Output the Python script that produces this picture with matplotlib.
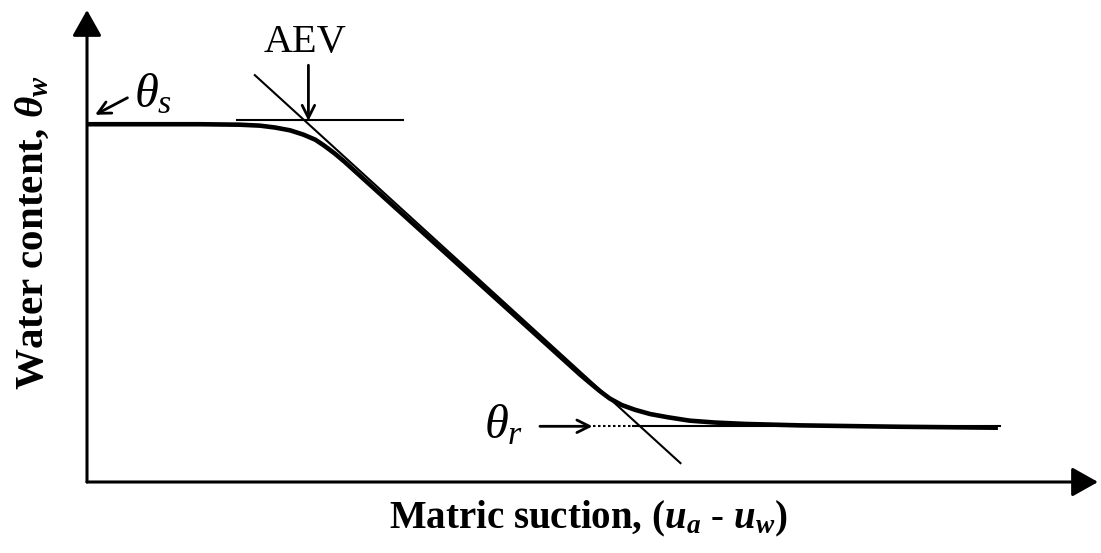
import matplotlib
matplotlib.use("Agg")
import matplotlib.pyplot as plt

plt.rcParams['font.family'] = ['Liberation Serif', 'DejaVu Serif']
plt.rcParams['mathtext.fontset'] = 'custom'
plt.rcParams['mathtext.rm'] = 'Liberation Serif'
plt.rcParams['mathtext.it'] = 'Liberation Serif:italic'
plt.rcParams['mathtext.bf'] = 'Liberation Serif:bold'
plt.rcParams['mathtext.bfit'] = 'Liberation Serif:italic:bold'

# Soil-water characteristic curve (schematic units, 0-100 on both axes)
suction = [0, 11.2, 15.1, 17.1, 18.6, 20.1, 21.4, 22.6, 23.5, 24.5, 25.5,
           48.8, 49.8, 50.7, 51.7, 52.9, 54.2, 55.7, 57.5, 59.6, 62.1,
           65.1, 70.5, 80.4, 90.1]
water = [75.8, 75.8, 75.7, 75.5, 75.1, 74.5, 73.6, 72.5, 71.2, 69.6, 67.8,
         22.7, 20.9, 19.3, 17.7, 16.3, 15.3, 14.4, 13.7, 13.0, 12.6,
         12.3, 12.0, 11.7, 11.5]

# construction lines
theta_s_line_x = [14.8, 31.3]
theta_s_line_y = [76.6, 76.6]
slope_x = [16.6, 58.7]
slope_y = [86.2, 4.0]
theta_r = 11.8
theta_r_dotted_x = [50.0, 54.0]
theta_r_solid_x = [54.0, 90.3]
aev_x = 21.9

fig = plt.figure(figsize=(11.01, 5.53), dpi=100)
ax = fig.add_axes([87/1101, 71/553, 1011/1101, 472/553])
ax.set_xlim(0, 100)
ax.set_ylim(0, 100)
ax.axis('off')

ax.plot(suction, water, color='k', lw=3.3, solid_capstyle='butt',
        solid_joinstyle='round', zorder=3)
ax.plot(theta_s_line_x, theta_s_line_y, color='k', lw=1.5)
ax.plot(slope_x, slope_y, color='k', lw=1.5)
ax.plot(theta_r_dotted_x, [theta_r]*2, color='k', lw=1.5, ls=(0, (1.2, 1.2)))
ax.plot(theta_r_solid_x, [theta_r]*2, color='k', lw=1.5)

# axes with filled arrow heads
axis_arrow = dict(arrowstyle='-|>,head_length=1.6,head_width=0.9', lw=2.2,
                  color='k', mutation_scale=10, shrinkA=0, shrinkB=0)
ax.annotate('', xy=(0, 1), xytext=(0, 0), xycoords='axes fraction',
            arrowprops=axis_arrow)
ax.annotate('', xy=(1, 0), xytext=(0, 0), xycoords='axes fraction',
            arrowprops=axis_arrow)

# pointer arrows
pointer = dict(arrowstyle='->,head_length=0.9,head_width=0.45', lw=2.0,
               color='k', mutation_scale=10, shrinkA=0, shrinkB=0)
ax.annotate('', xy=(aev_x, 76.5), xytext=(aev_x, 88.3), arrowprops=pointer)
ax.text(aev_x - 0.3, 91.2, 'AEV', fontsize=29, ha='center', va='baseline')
ax.annotate('', xy=(0.8, 77.8), xytext=(4.0, 81.4), arrowprops=pointer)
ax.text(4.6, 79.3, r'$\theta_s$', fontsize=35, ha='left', va='baseline')
ax.annotate('', xy=(50.0, theta_r), xytext=(44.8, theta_r), arrowprops=pointer)
ax.text(39.3, 9.3, r'$\theta_r$', fontsize=35, ha='left', va='baseline')

ax.text(0.4955, -0.0975, r'Matric suction, ($\mathbfit{u}_{\mathbfit{a}}$ - $\mathbfit{u}_{\mathbfit{w}}$)',
        transform=ax.transAxes, fontsize=28, fontweight='bold',
        ha='center', va='baseline')
ax.text(-0.0435, 0.528, r'Water content, $\mathbfit{\theta}_{\mathbfit{w}}$',
        transform=ax.transAxes, fontsize=29.5, fontweight='bold',
        rotation=90, rotation_mode='anchor', ha='center', va='baseline')

fig.savefig('out.png', dpi=100)
